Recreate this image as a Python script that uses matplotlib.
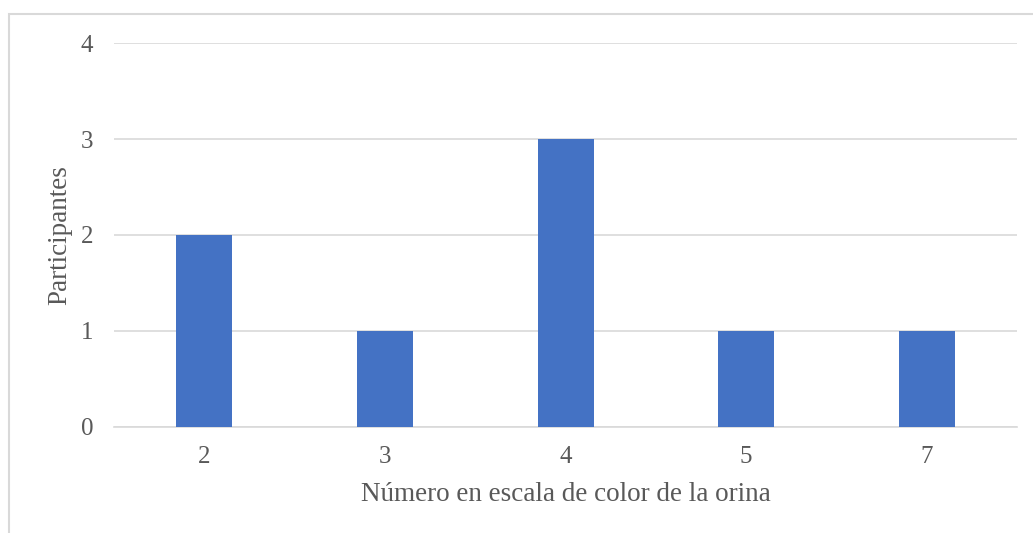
import matplotlib
matplotlib.use("Agg")
import matplotlib.pyplot as plt
from matplotlib.patches import Rectangle

categorias = ["2", "3", "4", "5", "7"]
participantes = [2, 1, 3, 1, 1]

plt.rcParams['font.family'] = ['Liberation Serif', 'DejaVu Serif']
gris = '#595959'

fig = plt.figure(figsize=(10.33, 5.33), dpi=100)
ax = fig.add_axes([0.1104, 0.1989, 0.8741, 0.7204])

# marco del grafico
fig.patches.append(Rectangle((9 / 1033, -0.1), 1.2, 1 - 14 / 533 + 0.1,
                             transform=fig.transFigure, fill=False,
                             edgecolor='#D9D9D9', linewidth=1.5))

x = range(len(categorias))
ax.bar(x, participantes, width=0.31, color='#4472C4', zorder=3)

ax.set_xlim(-0.5, len(categorias) - 0.5)
ax.set_ylim(0, 4)
ax.set_yticks([0, 1, 2, 3, 4])
ax.set_xticks(list(x))
ax.set_xticklabels(categorias)
ax.grid(axis='y', color='#D9D9D9', linewidth=1.2, zorder=0)
for s in ['top', 'right', 'left']:
    ax.spines[s].set_visible(False)
ax.spines['bottom'].set_color('#D9D9D9')
ax.spines['bottom'].set_linewidth(1.2)
ax.tick_params(length=0, labelsize=18, colors=gris)
ax.tick_params(axis='y', pad=15)
ax.tick_params(axis='x', pad=14)

ax.set_xlabel('Número en escala de color de la orina', fontsize=19.5, color=gris, labelpad=10)
ax.set_ylabel('Participantes', fontsize=19.5, color=gris, labelpad=6)

fig.savefig('out.png', dpi=100)
